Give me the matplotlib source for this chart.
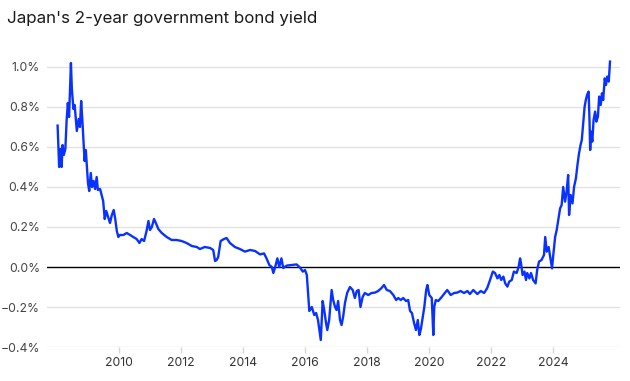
import matplotlib
matplotlib.use("Agg")
import matplotlib.pyplot as plt

# decimal year, 2-year JGB yield in percent
years = [
    2008.01, 2008.06, 2008.10, 2008.14, 2008.17, 2008.21, 2008.26, 2008.30, 2008.34, 2008.38,
    2008.41, 2008.44, 2008.47, 2008.52, 2008.56, 2008.63, 2008.69, 2008.73, 2008.77, 2008.81,
    2008.85, 2008.88, 2008.92, 2008.96, 2008.99, 2009.03, 2009.08, 2009.12, 2009.17, 2009.22,
    2009.27, 2009.31, 2009.38, 2009.43, 2009.48, 2009.53, 2009.58, 2009.64, 2009.70, 2009.76,
    2009.82, 2009.87, 2009.92, 2009.97, 2010.02, 2010.13, 2010.24, 2010.35, 2010.45, 2010.56,
    2010.65, 2010.72, 2010.80, 2010.88, 2010.94, 2010.99, 2011.05, 2011.12, 2011.18, 2011.26,
    2011.37, 2011.53, 2011.69, 2011.85, 2012.01, 2012.17, 2012.34, 2012.50, 2012.60, 2012.76,
    2012.93, 2013.03, 2013.09, 2013.14, 2013.19, 2013.27, 2013.38, 2013.46, 2013.57, 2013.73,
    2013.89, 2014.05, 2014.22, 2014.38, 2014.54, 2014.67, 2014.75, 2014.84, 2014.92, 2014.97,
    2015.02, 2015.10, 2015.16, 2015.23, 2015.29, 2015.40, 2015.56, 2015.72, 2015.83, 2015.92,
    2015.99, 2016.05, 2016.10, 2016.13, 2016.21, 2016.29, 2016.35, 2016.41, 2016.45, 2016.50,
    2016.56, 2016.61, 2016.67, 2016.71, 2016.77, 2016.85, 2016.90, 2016.96, 2017.01, 2017.06,
    2017.12, 2017.17, 2017.22, 2017.28, 2017.35, 2017.44, 2017.53, 2017.60, 2017.66, 2017.72,
    2017.78, 2017.85, 2017.92, 2018.03, 2018.14, 2018.25, 2018.35, 2018.46, 2018.54, 2018.63,
    2018.73, 2018.84, 2018.93, 2019.00, 2019.08, 2019.16, 2019.25, 2019.32, 2019.38, 2019.44,
    2019.51, 2019.57, 2019.63, 2019.68, 2019.73, 2019.79, 2019.84, 2019.90, 2019.94, 2020.00,
    2020.08, 2020.13, 2020.16, 2020.21, 2020.29, 2020.40, 2020.50, 2020.58, 2020.69, 2020.80,
    2020.90, 2021.01, 2021.12, 2021.23, 2021.31, 2021.42, 2021.55, 2021.66, 2021.77, 2021.87,
    2021.96, 2022.05, 2022.12, 2022.20, 2022.26, 2022.32, 2022.39, 2022.45, 2022.52, 2022.58,
    2022.66, 2022.73, 2022.82, 2022.88, 2022.93, 2022.96, 2023.01, 2023.07, 2023.12, 2023.16,
    2023.23, 2023.28, 2023.35, 2023.43, 2023.48, 2023.54, 2023.62, 2023.70, 2023.74, 2023.79,
    2023.85, 2023.89, 2023.96, 2024.00, 2024.06, 2024.11, 2024.16, 2024.22, 2024.27, 2024.32,
    2024.38, 2024.43, 2024.48, 2024.51, 2024.56, 2024.62, 2024.67, 2024.73, 2024.78, 2024.83,
    2024.88, 2024.92, 2024.96, 2025.01, 2025.05, 2025.09, 2025.14, 2025.17, 2025.19, 2025.22,
    2025.26, 2025.30, 2025.35, 2025.39, 2025.44, 2025.48, 2025.53, 2025.57, 2025.61, 2025.66,
    2025.70, 2025.74, 2025.79, 2025.83,
]
yields = [
    0.707, 0.50, 0.59, 0.50, 0.61, 0.56, 0.59, 0.73, 0.82, 0.75,
    0.88, 1.02, 0.89, 0.79, 0.81, 0.68, 0.74, 0.70, 0.83, 0.73,
    0.61, 0.53, 0.585, 0.49, 0.42, 0.38, 0.47, 0.40, 0.43, 0.39,
    0.45, 0.385, 0.39, 0.36, 0.33, 0.24, 0.28, 0.25, 0.22, 0.26,
    0.285, 0.24, 0.18, 0.15, 0.16, 0.16, 0.17, 0.16, 0.15, 0.14,
    0.12, 0.14, 0.13, 0.18, 0.23, 0.185, 0.20, 0.24, 0.22, 0.19,
    0.17, 0.15, 0.135, 0.135, 0.13, 0.12, 0.105, 0.10, 0.09, 0.10,
    0.095, 0.085, 0.03, 0.035, 0.05, 0.13, 0.14, 0.145, 0.12, 0.10,
    0.09, 0.077, 0.085, 0.08, 0.063, 0.068, 0.043, 0.01, 0.0, -0.03,
    -0.005, 0.043, 0.0, 0.043, -0.005, 0.007, 0.01, 0.013, -0.003, -0.023,
    -0.015, -0.04, -0.15, -0.22, -0.20, -0.24, -0.23, -0.265, -0.31, -0.365,
    -0.17, -0.215, -0.28, -0.315, -0.265, -0.115, -0.165, -0.20, -0.215, -0.17,
    -0.265, -0.29, -0.25, -0.18, -0.13, -0.10, -0.115, -0.155, -0.12, -0.115,
    -0.20, -0.15, -0.13, -0.14, -0.13, -0.128, -0.12, -0.105, -0.09, -0.115,
    -0.12, -0.14, -0.165, -0.155, -0.165, -0.155, -0.17, -0.165, -0.22, -0.23,
    -0.28, -0.315, -0.265, -0.34, -0.31, -0.25, -0.20, -0.115, -0.09, -0.14,
    -0.155, -0.34, -0.20, -0.165, -0.17, -0.15, -0.13, -0.115, -0.14, -0.13,
    -0.128, -0.12, -0.13, -0.12, -0.135, -0.115, -0.135, -0.12, -0.13, -0.105,
    -0.065, -0.023, -0.03, -0.057, -0.04, -0.065, -0.048, -0.082, -0.098, -0.073,
    -0.065, -0.023, -0.03, 0.0, 0.043, 0.018, -0.04, -0.023, -0.065, -0.03,
    -0.057, -0.03, -0.065, -0.082, -0.015, 0.027, 0.035, 0.06, 0.15, 0.077,
    0.10, 0.06, -0.007, 0.06, 0.15, 0.185, 0.235, 0.293, 0.31, 0.40,
    0.327, 0.377, 0.46, 0.26, 0.36, 0.318, 0.40, 0.443, 0.51, 0.568,
    0.61, 0.635, 0.71, 0.80, 0.835, 0.86, 0.877, 0.727, 0.585, 0.677,
    0.627, 0.735, 0.777, 0.727, 0.752, 0.852, 0.81, 0.868, 0.835, 0.943,
    0.91, 0.952, 0.927, 1.027,
]

year_ticks = [2010, 2012, 2014, 2016, 2018, 2020, 2022, 2024]
y_ticks = [-0.4, -0.2, 0.0, 0.2, 0.4, 0.6, 0.8, 1.0]

plt.rcParams["font.family"] = ["Inter", "DejaVu Sans"]

fig = plt.figure(figsize=(6.3, 3.81), dpi=100)
ax = fig.add_axes([0.0746, 0.0892, 0.9094, 0.756])

for yt in y_ticks:
    if yt == 0:
        ax.axhline(0, color="black", lw=1.0, zorder=2)
    else:
        ax.axhline(yt, color="#e2e2e2", lw=1.0, zorder=1)

ax.plot(years, yields, color="#0a32ff", lw=1.7, zorder=3, solid_joinstyle="round")

ax.set_xlim(2007.668, 2026.15)
ax.set_ylim(-0.4, 1.04)
ax.set_xticks(year_ticks)
ax.set_xticklabels([str(y) for y in year_ticks])
ax.set_yticks(y_ticks)
ax.set_yticklabels([f"{v:.1f}%".replace("-", "\u2212") for v in y_ticks])

for s in ax.spines.values():
    s.set_visible(False)
ax.tick_params(axis="x", length=4, width=1, color="#d6d6d6", pad=3,
               labelsize=8.8, labelcolor="#333333")
ax.tick_params(axis="y", length=0, pad=5, labelsize=8.8, labelcolor="#444444")

fig.text(0.011, 0.952, "Japan's 2-year government bond yield", fontsize=12.2,
         color="#1a1a1a", ha="left", va="center")

fig.savefig("out.png", dpi=100)
